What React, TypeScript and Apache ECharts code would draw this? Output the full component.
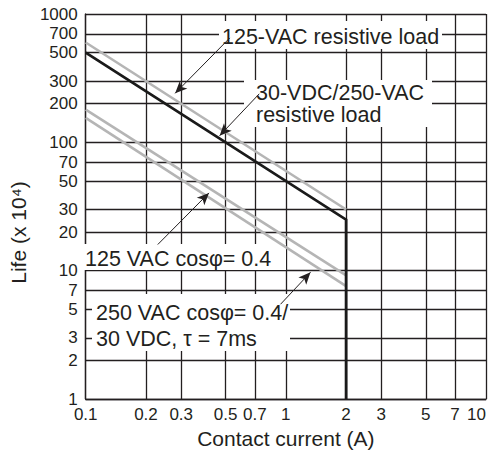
import React, { useEffect, useRef } from 'react';
import * as echarts from 'echarts';

// Axis tick values (log-log chart)
const xTicks = [0.1, 0.2, 0.3, 0.5, 0.7, 1, 2, 3, 5, 7, 10];
const yTicks = [1, 2, 3, 5, 7, 10, 20, 30, 50, 70, 100, 200, 300, 500, 700, 1000];

// Curves: [contact current (A), life (x10^4)]
const resistive30VDC250VAC = [[0.1, 500], [2, 25], [2, 1]];
const resistive125VAC = [[0.1, 600], [2, 30]];
const inductive125VAC = [[0.1, 180], [2, 9.2]];
const inductive250VAC = [[0.1, 155], [2, 7.6]];

// Leader arrows for the annotations, in data coordinates: [from, to]
const leaderArrows = [
  [[0.5246, 651], [0.2798, 241]],
  [[0.7365, 239], [0.4667, 112.7]],
  [[0.2291, 16.0], [0.4129, 40.4]],
  [[0.9406, 5.48], [1.328, 9.72]],
];

// Annotation texts
const labelResistive125 = '125-VAC resistive load';
const labelResistive30 = '30-VDC/250-VAC\nresistive load';
const labelInductive125 = '125 VAC cosφ= 0.4';
const labelInductive250 = '250 VAC cosφ= 0.4/\n30 VDC, τ = 7ms';

const FONT = "'Liberation Sans', Arial, Helvetica, sans-serif";
const INK = '#231f20';
const GRAY = '#b5b5b5';

export default function App() {
  const ref = useRef<HTMLDivElement>(null);

  useEffect(() => {
    const chart = echarts.init(ref.current as HTMLDivElement, null, { renderer: 'svg' });

    const curve = (name: string, data: number[][], color: string, width: number, extra: any = {}) => ({
      name,
      type: 'line',
      data,
      symbol: 'none',
      showSymbol: false,
      silent: true,
      z: 3,
      lineStyle: { color, width, cap: 'butt', join: 'miter' },
      itemStyle: { color },
      ...extra,
    });

    const box = (x: number, y: number, w: number, h: number) => ({
      type: 'rect',
      z: 1,
      silent: true,
      shape: { x, y, width: w, height: h },
      style: { fill: '#ffffff' },
    });
    const txt = (x: number, y: number, text: string, lineHeight: number) => ({
      type: 'text',
      z: 1,
      silent: true,
      x,
      y,
      style: {
        text,
        fill: INK,
        fontFamily: FONT,
        fontSize: 21.5,
        lineHeight,
        align: 'left',
        verticalAlign: 'middle',
      },
    });

    const option: any = {
      animation: false,
      backgroundColor: '#ffffff',
      grid: { left: 72, right: 2, top: 14, bottom: 52, containLabel: false },
      xAxis: {
        type: 'log',
        logBase: 10,
        min: 0.1,
        max: 10,
        name: 'Contact current (A)',
        nameLocation: 'middle',
        nameGap: 25,
        nameTextStyle: { fontFamily: FONT, fontSize: 21, color: INK },
        axisLine: { show: true, lineStyle: { color: INK, width: 1.3 } },
        axisTick: { show: false, customValues: xTicks },
        axisLabel: {
          customValues: xTicks,
          fontFamily: FONT,
          fontSize: 17,
          color: INK,
          margin: 7,
          alignMaxLabel: 'right',
          formatter: (v: number) => String(v),
        },
        splitLine: { show: true, lineStyle: { color: INK, width: 1.3 } },
        minorTick: { show: false },
        minorSplitLine: { show: false },
      },
      yAxis: {
        type: 'log',
        logBase: 10,
        min: 1,
        max: 1000,
        name: 'Life (x 10⁴)',
        nameLocation: 'middle',
        nameGap: 42,
        nameRotate: 90,
        nameTextStyle: { fontFamily: FONT, fontSize: 21, color: INK, padding: [0, 52, 0, 0] },
        axisLine: { show: true, lineStyle: { color: INK, width: 1.3 } },
        axisTick: { show: false, customValues: yTicks },
        axisLabel: {
          customValues: yTicks,
          fontFamily: FONT,
          fontSize: 17,
          color: INK,
          margin: 8,
          formatter: (v: number) => String(v),
        },
        splitLine: { show: true, lineStyle: { color: INK, width: 1.3 } },
        minorTick: { show: false },
        minorSplitLine: { show: false },
      },
      series: [
        curve('125-VAC resistive load', resistive125VAC, GRAY, 2.6),
        curve('125 VAC cosφ= 0.4', inductive125VAC, GRAY, 2.6),
        curve('250 VAC cosφ= 0.4 / 30 VDC', inductive250VAC, GRAY, 2.6),
        curve('30-VDC/250-VAC resistive load', resistive30VDC250VAC, '#1a1a1a', 2.8, {
          markLine: {
            silent: true,
            symbol: ['none', 'arrow'],
            symbolSize: [8, 12],
            label: { show: false },
            emphasis: { disabled: true },
            lineStyle: { color: INK, width: 1, type: 'solid' },
            data: leaderArrows.map(([a, b]) => [{ coord: a }, { coord: b }]),
          },
        }),
      ],
      graphic: {
        elements: [
          box(219, 21, 223, 28),
          txt(222, 36.5, labelResistive125, 24),
          box(244, 80, 188, 47),
          txt(256, 103.75, labelResistive30, 22.5),
          box(80, 244, 206, 26),
          txt(85, 258.5, labelInductive125, 24),
          box(92, 294, 198, 57),
          txt(96, 325.75, labelInductive250, 26.5),
        ],
      },
    };

    chart.setOption(option);
    return () => chart.dispose();
  }, []);

  return (
    <div
      ref={ref}
      style={{ position: 'fixed', left: 0, top: 0, width: 489, height: 454, background: '#fff' }}
    />
  );
}
